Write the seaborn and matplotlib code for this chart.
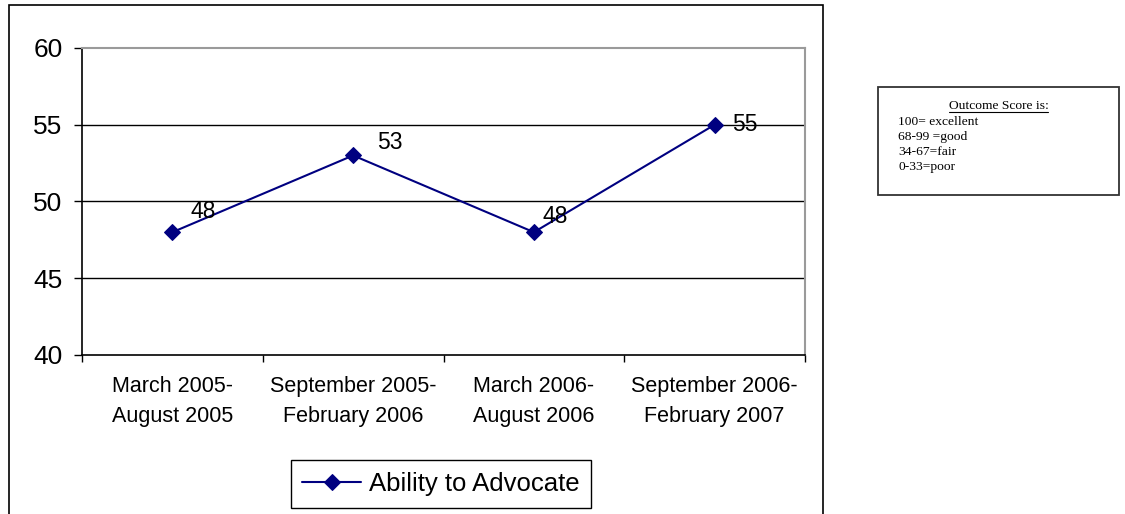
import matplotlib
matplotlib.use("Agg")
import matplotlib.pyplot as plt
from matplotlib.patches import Rectangle
from matplotlib.lines import Line2D
import seaborn as sns
import pandas as pd

periods = [
    "March 2005-\nAugust 2005",
    "September 2005-\nFebruary 2006",
    "March 2006-\nAugust 2006",
    "September 2006-\nFebruary 2007",
]
scores = [48, 53, 48, 55]
series_name = "Ability to Advocate"
y_ticks = [40, 45, 50, 55, 60]
key_title = "Outcome Score is:"
key_lines = ["100= excellent", "68-99 =good", "34-67=fair", "0-33=poor"]

sns.set_theme(style="white")
plt.rcParams["font.family"] = ["Liberation Sans", "DejaVu Sans"]
plt.rcParams["text.color"] = "black"
plt.rcParams["xtick.color"] = "black"
plt.rcParams["ytick.color"] = "black"

W, H = 1125, 514
fig = plt.figure(figsize=(W / 100, H / 100), dpi=100)
fig.patch.set_facecolor("white")
ax = fig.add_axes([82 / W, 1 - 355 / H, (805 - 82) / W, (355 - 48) / H])

df = pd.DataFrame({"x": range(len(periods)), "score": scores})
navy = "#000080"
sns.lineplot(data=df, x="x", y="score", ax=ax, color=navy, marker="D",
             markersize=8.5, markeredgecolor=navy, linewidth=1.5,
             label=series_name, zorder=3)

ax.set_xlim(-0.5, len(periods) - 0.5)
ax.set_ylim(40, 60)
ax.set_yticks(y_ticks)
ax.set_yticklabels([str(v) for v in y_ticks], fontsize=19)
ax.set_xticks(range(len(periods)))
ax.set_xticklabels(periods, fontsize=15.5, linespacing=1.55)
ax.set_xticks([i - 0.5 for i in range(len(periods) + 1)], minor=True)
ax.tick_params(axis="x", which="major", length=0, pad=15)
ax.tick_params(axis="x", which="minor", length=5, width=1, color="black",
               direction="out", bottom=True)
ax.tick_params(axis="y", length=6, width=1, color="black", direction="out",
               left=True, pad=8)
ax.set_xlabel("")
ax.set_ylabel("")

for v in y_ticks[1:-1]:
    ax.axhline(v, color="black", linewidth=1, zorder=1)

for side in ["left", "bottom"]:
    ax.spines[side].set_color("black")
    ax.spines[side].set_linewidth(1.2)
for side in ["top", "right"]:
    ax.spines[side].set_color("#9a9a9a")
    ax.spines[side].set_linewidth(1.5)

# value labels beside each point
offsets = [(31, 21), (37, 13), (21, 16), (30, 0)]
for i, (v, off) in enumerate(zip(scores, offsets)):
    ax.annotate(str(v), (i, v), xytext=(off[0] * 0.72, off[1] * 0.72),
                textcoords="offset points", ha="center", va="center",
                fontsize=16.5, color="black", zorder=4)

leg = ax.legend(loc="center", bbox_to_anchor=(441 / W, 1 - 484 / H),
                bbox_transform=fig.transFigure, fontsize=18.5,
                frameon=True, fancybox=False, edgecolor="black",
                framealpha=1, handlelength=2.3, handletextpad=0.3,
                borderpad=0.45, borderaxespad=0)
leg.get_frame().set_linewidth(1)

# outer chart frame
fig.patches.append(Rectangle((9 / W, -0.02), (823 - 9) / W, 1 - 5 / H + 0.02,
                             transform=fig.transFigure, fill=False,
                             edgecolor="black", linewidth=1.2, zorder=0))

# score key box
bx0, by0, bx1, by1 = 878, 87, 1119, 195
fig.patches.append(Rectangle((bx0 / W, 1 - by1 / H), (bx1 - bx0) / W,
                             (by1 - by0) / H, transform=fig.transFigure,
                             fill=False, edgecolor="#333333", linewidth=1.3))
serif = ["Liberation Serif", "DejaVu Serif"]
cx = (bx0 + bx1) / 2
fig.text(cx / W, 1 - 106 / H, key_title, ha="center", va="center",
         fontsize=9.7, family=serif, color="black")
fig.lines.append(Line2D([949 / W, 1048 / W], [1 - 111.5 / H, 1 - 111.5 / H],
                        transform=fig.transFigure, color="black",
                        linewidth=0.8))
for k, line in enumerate(key_lines):
    fig.text(898 / W, 1 - (122 + 15 * k) / H, line, ha="left", va="center",
             fontsize=9.7, family=serif, color="black")

fig.savefig("out.png", dpi=100, facecolor="white")
